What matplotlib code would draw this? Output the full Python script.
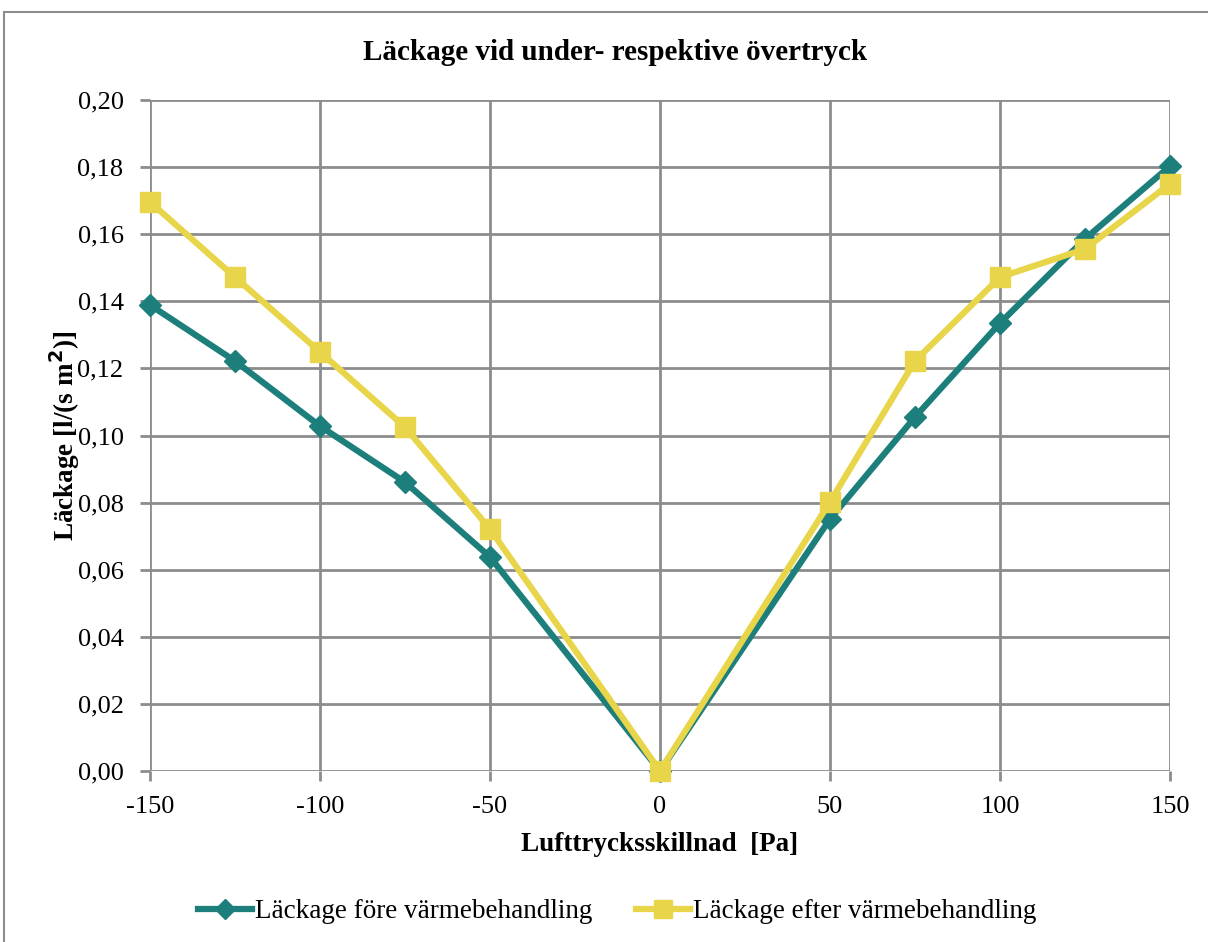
import numpy as np
import matplotlib.pyplot as plt
from matplotlib.patches import Rectangle

plt.rcParams['font.family'] = ['Liberation Serif', 'DejaVu Serif']

# pressure difference [Pa]
pressure = [-150, -125, -100, -75, -50, 0, 50, 75, 100, 125, 150]
# leakage before / after heat treatment [l/(s m2)]
leak_before = [0.1389, 0.1222, 0.1028, 0.0861, 0.0638, 0.0, 0.0751, 0.1055, 0.1335, 0.1586, 0.1803]
leak_after = [0.1696, 0.1472, 0.1249, 0.1025, 0.0721, 0.0, 0.0802, 0.1222, 0.1472, 0.1556, 0.1750]

xticks = [-150, -100, -50, 0, 50, 100, 150]
yticks = np.arange(0, 0.201, 0.02)

teal = '#1C7F7B'
yellow = '#E8D54A'
grid = '#8C8C8C'

W, H = 1208, 942
fig = plt.figure(figsize=(W / 100, H / 100), dpi=100)
ax = fig.add_axes([150 / W, 1 - 771 / H, (1170 - 150) / W, (771 - 100) / H])

# outer chart frame (cut off at right/bottom)
fig.patches.append(Rectangle((4 / W, -0.1), 1.2, 1 - 12 / H + 0.1, transform=fig.transFigure,
                             fill=False, edgecolor='#8C8C8C', linewidth=1.5))

ax.plot(pressure, leak_before, color=teal, linewidth=4.5, marker='D', markersize=11,
        label='Läckage före värmebehandling', zorder=3, clip_on=False)
ax.plot(pressure, leak_after, color=yellow, linewidth=4.5, marker='s', markersize=15,
        label='Läckage efter värmebehandling', zorder=4, clip_on=False)

ax.set_xlim(-150, 150)
ax.set_ylim(0, 0.20)
ax.set_xticks(xticks)
ax.set_xticklabels([str(v) for v in xticks])
ax.set_yticks(yticks)
ax.set_yticklabels([f'{v:.2f}'.replace('.', ',') for v in yticks])
ax.grid(True, color=grid, linewidth=2)
for s in ax.spines.values():
    s.set_visible(False)
ax.tick_params(axis='both', length=7, width=2, color=grid, labelsize=19)
ax.tick_params(axis='x', pad=11)
ax.tick_params(axis='y', pad=12)

fig.text(615 / W, 1 - 52 / H, 'Läckage vid under- respektive övertryck', fontsize=21,
         fontweight='bold', ha='center', va='center')
ax.set_xlabel('Lufttrycksskillnad  [Pa]', fontsize=19.5, fontweight='bold', labelpad=10)
ax.set_ylabel('Läckage [l/(s m$^\\mathbf{2}$)]', fontsize=19.5, fontweight='bold', labelpad=-3)

ax.legend(loc='center', bbox_to_anchor=(617 / W, 1 - 912 / H), bbox_transform=fig.transFigure,
          ncol=2, frameon=False, fontsize=19.5, handlelength=2.0, handletextpad=0.1,
          columnspacing=1.6, markerscale=0.9)

plt.savefig('out.png', dpi=100)
